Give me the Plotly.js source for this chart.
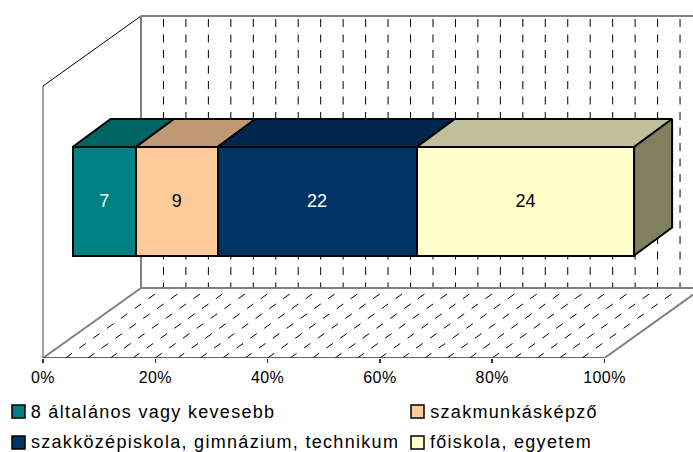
<!DOCTYPE html>
<html><head><meta charset="utf-8">
<script src="https://cdn.plot.ly/plotly-3.0.1.min.js"></script>
<style>html,body{margin:0;padding:0;background:#fff}
.annotation text{letter-spacing:1.3px}
.xtick text{letter-spacing:.4px}
</style></head>
<body><div id="chart" style="width:693px;height:452px"></div>
<script>
const categories = ["8 általános vagy kevesebb","szakmunkásképző","szakközépiskola, gimnázium, technikum","főiskola, egyetem"];
const values = [7,9,22,24];
const frontColors = ["#008080","#FFCC99","#003366","#FFFFCC"];
const topColors = ["#006460","#BF9973","#002650","#BFBF99"];
const labelColors = ["#ffffff","#000000","#ffffff","#000000"];
const sideColor = "#80805F";
const tickVals = [0,20,40,60,80,100];
const tickText = ["0%","20%","40%","60%","80%","100%"];
const gridVals = [4,8,12,16,20,24,28,32,36,40,44,48,52,56,60,64,68,72,76,80,84,88,92,96];

// projection geometry
const W=693,H=452,floorPx=358;
const ppu=5.615, axisLeft=43, barLeft=72.6;
const wallDx=98/ppu, wallDy=70, wallH=272;
const barDx=38/ppu, barDy=28, barBottom=102.5, barTop=211;
const FONT="Liberation Sans, Arial, sans-serif";
const legendSpacing=1.3;

const total=values.reduce((a,b)=>a+b,0);
let cum=[0]; values.forEach(v=>cum.push(cum[cum.length-1]+v/total*100));

function seg(xs,ys,color,width,dash){
  return {type:"scatter",mode:"lines",x:xs,y:ys,xaxis:"x",yaxis:"y",hoverinfo:"skip",showlegend:false,
    line:{color:color,width:width,dash:dash||"solid"}};
}
const traces=[];
// wall gridlines
let gx=[],gy=[]; gridVals.forEach(v=>{gx.push(v+wallDx,v+wallDx,null);gy.push(wallDy+wallH-3,wallDy,null);});
traces.push(seg(gx,gy,"#000000",1,"8px,7.5px"));
// floor gridlines
let fx=[],fy=[]; gridVals.forEach(v=>{fx.push(v,v+wallDx,null);fy.push(0,wallDy,null);});
traces.push(seg(fx,fy,"#000000",1,"8px,9px"));
// walls
traces.push(seg([0,0],[0,wallH],"#808080",1.5));
traces.push(seg([0,wallDx],[wallH,wallH+wallDy],"#000000",1));
traces.push(seg([wallDx,wallDx],[wallDy,wallH+wallDy],"#808080",2));
traces.push(seg([wallDx,100+wallDx],[wallH+wallDy,wallH+wallDy],"#808080",2));
traces.push(seg([wallDx,100+wallDx],[wallDy,wallDy],"#808080",2));
traces.push(seg([0,wallDx],[0,wallDy],"#808080",2));
traces.push(seg([100,100+wallDx],[0,wallDy],"#808080",2));
traces.push(seg([0,100],[0,0],"#333333",1.5));

// bars
values.forEach((v,i)=>{
  traces.push({type:"bar",orientation:"h",name:categories[i],x:[v],y:[(barBottom+barTop)/2],width:[barTop-barBottom],
    xaxis:"x2",yaxis:"y",showlegend:false,hoverinfo:"x+name",
    marker:{color:frontColors[i],line:{color:"#000000",width:2}},
    text:[String(v)],textposition:"inside",insidetextanchor:"middle",textangle:0,constraintext:"none",
    insidetextfont:{family:FONT,size:18,color:labelColors[i]}});
});
// top and side faces
function poly(xs,ys,fill){
  return {type:"scatter",mode:"lines",x:xs,y:ys,xaxis:"x2",yaxis:"y",fill:"toself",fillcolor:fill,
    line:{color:"#000000",width:2},hoverinfo:"skip",showlegend:false};
}
values.forEach((v,i)=>{
  const a=cum[i],b=cum[i+1];
  traces.push(poly([a,b,b+barDx,a+barDx,a],[barTop,barTop,barTop+barDy,barTop+barDy,barTop],topColors[i]));
});
traces.push(poly([100,100+barDx,100+barDx,100,100],[barBottom,barBottom+barDy,barTop+barDy,barTop,barBottom],sideColor));

// legend
const legendX=[12,411,12,411], legendY=[411.5,411.5,442.5,442.5], swatch=13;
const shapes=[],annotations=[];
categories.forEach((c,i)=>{
  shapes.push({type:"rect",xref:"paper",yref:"paper",
    x0:legendX[i]/W,x1:(legendX[i]+swatch)/W,
    y0:(floorPx-(legendY[i]+swatch/2))/floorPx,y1:(floorPx-(legendY[i]-swatch/2))/floorPx,
    fillcolor:frontColors[i],line:{color:"#000000",width:1.5}});
  annotations.push({xref:"paper",yref:"paper",x:(legendX[i]+17+c.length*legendSpacing/2)/W,y:(floorPx-legendY[i])/floorPx,
    xanchor:"left",yanchor:"middle",showarrow:false,text:c,font:{family:FONT,size:18,color:"#000000"}});
});

const layout={
  width:W,height:H,margin:{l:0,r:0,t:0,b:H-floorPx,pad:0},
  paper_bgcolor:"#ffffff",plot_bgcolor:"rgba(0,0,0,0)",showlegend:false,
  barmode:"stack",barnorm:"percent",bargap:0,
  xaxis:{domain:[0,1],range:[-axisLeft/ppu,(W-axisLeft)/ppu],tickmode:"array",tickvals:tickVals,ticktext:tickText,
    ticks:"outside",ticklen:4,tickcolor:"#333333",tickwidth:1.5,showgrid:false,zeroline:false,showline:false,
    ticklabelstandoff:1,
    tickfont:{family:FONT,size:16,color:"#000000"},fixedrange:true},
  xaxis2:{overlaying:"x",range:[-barLeft/ppu,(W-barLeft)/ppu],visible:false,fixedrange:true},
  yaxis:{range:[0,floorPx],visible:false,fixedrange:true},
  shapes:shapes,annotations:annotations
};
Plotly.newPlot("chart",traces,layout,{displayModeBar:false,staticPlot:true});
</script></body></html>
